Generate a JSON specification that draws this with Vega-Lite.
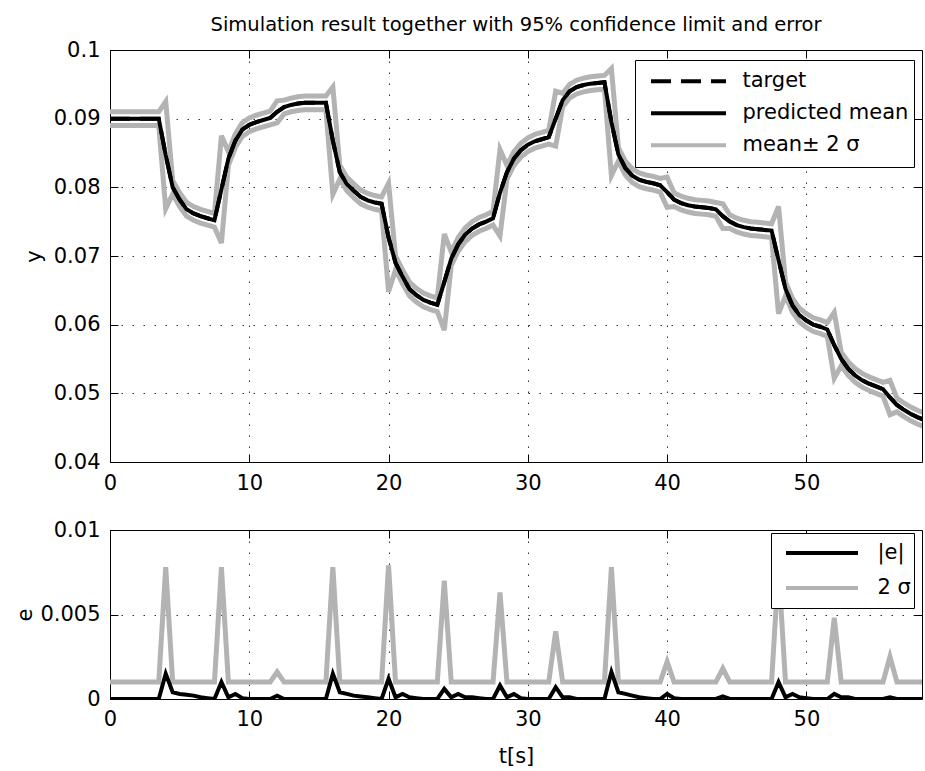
{
"$schema": "https://vega.github.io/schema/vega-lite/v6.json",
"padding": {"left": 13, "top": 14, "right": 2, "bottom": 8},
"background": "white",
"config": {
  "font": "DejaVu Sans",
  "view": {"stroke": "black", "strokeWidth": 1},
  "axis": {"labelFont": "DejaVu Sans", "labelFontSize": 21, "labelColor": "black", "titleFont": "DejaVu Sans", "titleFontSize": 21, "titleFontWeight": "normal", "titleColor": "black", "tickColor": "black", "tickSize": -8, "tickWidth": 1, "domain": false, "gridColor": "#000000", "gridDash": [1.5, 9.5], "gridOpacity": 0.8, "labelFlush": false, "labelOverlap": false},
  "legend": {"labelFont": "DejaVu Sans", "labelColor": "black", "strokeColor": "black", "fillColor": "white", "symbolType": "stroke", "symbolStrokeWidth": 4, "rowPadding": 0, "labelLimit": 400}
},
"datasets": {"sim": [
{"t":0,"target":0.0900,"mean":0.0900,"upper":0.0910,"lower":0.0890,"sig2":0.0010,"err":0},
{"t":0.5,"target":0.0900,"mean":0.0900,"upper":0.0910,"lower":0.0890,"sig2":0.0010,"err":0},
{"t":1,"target":0.0900,"mean":0.0900,"upper":0.0910,"lower":0.0890,"sig2":0.0010,"err":0},
{"t":1.5,"target":0.0900,"mean":0.0900,"upper":0.0910,"lower":0.0890,"sig2":0.0010,"err":0},
{"t":2,"target":0.0900,"mean":0.0900,"upper":0.0910,"lower":0.0890,"sig2":0.0010,"err":0},
{"t":2.5,"target":0.0900,"mean":0.0900,"upper":0.0910,"lower":0.0890,"sig2":0.0010,"err":0},
{"t":3,"target":0.0900,"mean":0.0900,"upper":0.0910,"lower":0.0890,"sig2":0.0010,"err":0},
{"t":3.5,"target":0.0900,"mean":0.0900,"upper":0.0910,"lower":0.0890,"sig2":0.0010,"err":0},
{"t":4,"target":0.0847,"mean":0.0847,"upper":0.0925,"lower":0.0769,"sig2":0.0078,"err":0.0015},
{"t":4.5,"target":0.0800,"mean":0.0800,"upper":0.0810,"lower":0.0790,"sig2":0.0010,"err":0.0004},
{"t":5,"target":0.0782,"mean":0.0782,"upper":0.0792,"lower":0.0772,"sig2":0.0010,"err":0.0003},
{"t":5.5,"target":0.0768,"mean":0.0768,"upper":0.0778,"lower":0.0758,"sig2":0.0010,"err":0.00025},
{"t":6,"target":0.0762,"mean":0.0762,"upper":0.0772,"lower":0.0752,"sig2":0.0010,"err":0.0002},
{"t":6.5,"target":0.0758,"mean":0.0758,"upper":0.0768,"lower":0.0748,"sig2":0.0010,"err":0.0001},
{"t":7,"target":0.0755,"mean":0.0755,"upper":0.0765,"lower":0.0745,"sig2":0.0010,"err":0.00005},
{"t":7.5,"target":0.0752,"mean":0.0752,"upper":0.0762,"lower":0.0742,"sig2":0.0010,"err":0},
{"t":8,"target":0.0797,"mean":0.0797,"upper":0.0875,"lower":0.0719,"sig2":0.0078,"err":0.0010},
{"t":8.5,"target":0.0842,"mean":0.0842,"upper":0.0852,"lower":0.0832,"sig2":0.0010,"err":0.0001},
{"t":9,"target":0.0868,"mean":0.0868,"upper":0.0878,"lower":0.0858,"sig2":0.0010,"err":0.0003},
{"t":9.5,"target":0.0884,"mean":0.0884,"upper":0.0894,"lower":0.0874,"sig2":0.0010,"err":0.00005},
{"t":10,"target":0.0891,"mean":0.0891,"upper":0.0901,"lower":0.0881,"sig2":0.0010,"err":0},
{"t":10.5,"target":0.0895,"mean":0.0895,"upper":0.0905,"lower":0.0885,"sig2":0.0010,"err":0},
{"t":11,"target":0.0898,"mean":0.0898,"upper":0.0908,"lower":0.0888,"sig2":0.0010,"err":0},
{"t":11.5,"target":0.0901,"mean":0.0901,"upper":0.0911,"lower":0.0891,"sig2":0.0010,"err":0},
{"t":12,"target":0.0910,"mean":0.0910,"upper":0.0926,"lower":0.0894,"sig2":0.0016,"err":0.0002},
{"t":12.5,"target":0.0917,"mean":0.0917,"upper":0.0927,"lower":0.0907,"sig2":0.0010,"err":0},
{"t":13,"target":0.0920,"mean":0.0920,"upper":0.0930,"lower":0.0910,"sig2":0.0010,"err":0},
{"t":13.5,"target":0.0922,"mean":0.0922,"upper":0.0932,"lower":0.0912,"sig2":0.0010,"err":0},
{"t":14,"target":0.0923,"mean":0.0923,"upper":0.0933,"lower":0.0913,"sig2":0.0010,"err":0},
{"t":14.5,"target":0.0923,"mean":0.0923,"upper":0.0933,"lower":0.0913,"sig2":0.0010,"err":0},
{"t":15,"target":0.0923,"mean":0.0923,"upper":0.0933,"lower":0.0913,"sig2":0.0010,"err":0},
{"t":15.5,"target":0.0923,"mean":0.0923,"upper":0.0933,"lower":0.0913,"sig2":0.0010,"err":0},
{"t":16,"target":0.0868,"mean":0.0868,"upper":0.0946,"lower":0.0790,"sig2":0.0078,"err":0.0015},
{"t":16.5,"target":0.0822,"mean":0.0822,"upper":0.0832,"lower":0.0812,"sig2":0.0010,"err":0.0004},
{"t":17,"target":0.0805,"mean":0.0805,"upper":0.0815,"lower":0.0795,"sig2":0.0010,"err":0.0003},
{"t":17.5,"target":0.0795,"mean":0.0795,"upper":0.0805,"lower":0.0785,"sig2":0.0010,"err":0.0002},
{"t":18,"target":0.0786,"mean":0.0786,"upper":0.0796,"lower":0.0776,"sig2":0.0010,"err":0.00015},
{"t":18.5,"target":0.0781,"mean":0.0781,"upper":0.0791,"lower":0.0771,"sig2":0.0010,"err":0.0001},
{"t":19,"target":0.0778,"mean":0.0778,"upper":0.0788,"lower":0.0768,"sig2":0.0010,"err":0.00005},
{"t":19.5,"target":0.0776,"mean":0.0776,"upper":0.0786,"lower":0.0766,"sig2":0.0010,"err":0},
{"t":20,"target":0.0727,"mean":0.0727,"upper":0.0806,"lower":0.0648,"sig2":0.0079,"err":0.0012},
{"t":20.5,"target":0.0690,"mean":0.0690,"upper":0.0700,"lower":0.0680,"sig2":0.0010,"err":0.0001},
{"t":21,"target":0.0670,"mean":0.0670,"upper":0.0680,"lower":0.0660,"sig2":0.0010,"err":0.0003},
{"t":21.5,"target":0.0652,"mean":0.0652,"upper":0.0662,"lower":0.0642,"sig2":0.0010,"err":0.0001},
{"t":22,"target":0.0643,"mean":0.0643,"upper":0.0653,"lower":0.0633,"sig2":0.0010,"err":0.00005},
{"t":22.5,"target":0.0636,"mean":0.0636,"upper":0.0646,"lower":0.0626,"sig2":0.0010,"err":0},
{"t":23,"target":0.0632,"mean":0.0632,"upper":0.0642,"lower":0.0622,"sig2":0.0010,"err":0},
{"t":23.5,"target":0.0629,"mean":0.0629,"upper":0.0639,"lower":0.0619,"sig2":0.0010,"err":0},
{"t":24,"target":0.0662,"mean":0.0662,"upper":0.0732,"lower":0.0592,"sig2":0.0070,"err":0.0006},
{"t":24.5,"target":0.0696,"mean":0.0696,"upper":0.0706,"lower":0.0686,"sig2":0.0010,"err":0.0001},
{"t":25,"target":0.0717,"mean":0.0717,"upper":0.0727,"lower":0.0707,"sig2":0.0010,"err":0.0003},
{"t":25.5,"target":0.0731,"mean":0.0731,"upper":0.0741,"lower":0.0721,"sig2":0.0010,"err":0.0001},
{"t":26,"target":0.0740,"mean":0.0740,"upper":0.0750,"lower":0.0730,"sig2":0.0010,"err":0.0001},
{"t":26.5,"target":0.0746,"mean":0.0746,"upper":0.0756,"lower":0.0736,"sig2":0.0010,"err":0.00005},
{"t":27,"target":0.0750,"mean":0.0750,"upper":0.0760,"lower":0.0740,"sig2":0.0010,"err":0},
{"t":27.5,"target":0.0755,"mean":0.0755,"upper":0.0765,"lower":0.0745,"sig2":0.0010,"err":0},
{"t":28,"target":0.0792,"mean":0.0792,"upper":0.0855,"lower":0.0729,"sig2":0.0063,"err":0.0008},
{"t":28.5,"target":0.0822,"mean":0.0822,"upper":0.0832,"lower":0.0812,"sig2":0.0010,"err":0.0001},
{"t":29,"target":0.0842,"mean":0.0842,"upper":0.0852,"lower":0.0832,"sig2":0.0010,"err":0.0003},
{"t":29.5,"target":0.0854,"mean":0.0854,"upper":0.0864,"lower":0.0844,"sig2":0.0010,"err":0.00005},
{"t":30,"target":0.0862,"mean":0.0862,"upper":0.0872,"lower":0.0852,"sig2":0.0010,"err":0},
{"t":30.5,"target":0.0867,"mean":0.0867,"upper":0.0877,"lower":0.0857,"sig2":0.0010,"err":0},
{"t":31,"target":0.0870,"mean":0.0870,"upper":0.0880,"lower":0.0860,"sig2":0.0010,"err":0},
{"t":31.5,"target":0.0873,"mean":0.0873,"upper":0.0883,"lower":0.0863,"sig2":0.0010,"err":0},
{"t":32,"target":0.0900,"mean":0.0900,"upper":0.0940,"lower":0.0860,"sig2":0.0040,"err":0.0007},
{"t":32.5,"target":0.0927,"mean":0.0927,"upper":0.0937,"lower":0.0917,"sig2":0.0010,"err":0.0001},
{"t":33,"target":0.0940,"mean":0.0940,"upper":0.0950,"lower":0.0930,"sig2":0.0010,"err":0.0001},
{"t":33.5,"target":0.0946,"mean":0.0946,"upper":0.0956,"lower":0.0936,"sig2":0.0010,"err":0},
{"t":34,"target":0.0949,"mean":0.0949,"upper":0.0959,"lower":0.0939,"sig2":0.0010,"err":0},
{"t":34.5,"target":0.0951,"mean":0.0951,"upper":0.0961,"lower":0.0941,"sig2":0.0010,"err":0},
{"t":35,"target":0.0952,"mean":0.0952,"upper":0.0962,"lower":0.0942,"sig2":0.0010,"err":0},
{"t":35.5,"target":0.0953,"mean":0.0953,"upper":0.0963,"lower":0.0943,"sig2":0.0010,"err":0},
{"t":36,"target":0.0895,"mean":0.0895,"upper":0.0973,"lower":0.0817,"sig2":0.0078,"err":0.0016},
{"t":36.5,"target":0.0848,"mean":0.0848,"upper":0.0858,"lower":0.0838,"sig2":0.0010,"err":0.0004},
{"t":37,"target":0.0828,"mean":0.0828,"upper":0.0838,"lower":0.0818,"sig2":0.0010,"err":0.0003},
{"t":37.5,"target":0.0817,"mean":0.0817,"upper":0.0827,"lower":0.0807,"sig2":0.0010,"err":0.0002},
{"t":38,"target":0.0811,"mean":0.0811,"upper":0.0821,"lower":0.0801,"sig2":0.0010,"err":0.0001},
{"t":38.5,"target":0.0808,"mean":0.0808,"upper":0.0818,"lower":0.0798,"sig2":0.0010,"err":0.00005},
{"t":39,"target":0.0806,"mean":0.0806,"upper":0.0816,"lower":0.0796,"sig2":0.0010,"err":0},
{"t":39.5,"target":0.0803,"mean":0.0803,"upper":0.0813,"lower":0.0793,"sig2":0.0010,"err":0},
{"t":40,"target":0.0793,"mean":0.0793,"upper":0.0815,"lower":0.0771,"sig2":0.0022,"err":0.0003},
{"t":40.5,"target":0.0782,"mean":0.0782,"upper":0.0792,"lower":0.0772,"sig2":0.0010,"err":0.00005},
{"t":41,"target":0.0777,"mean":0.0777,"upper":0.0787,"lower":0.0767,"sig2":0.0010,"err":0},
{"t":41.5,"target":0.0774,"mean":0.0774,"upper":0.0784,"lower":0.0764,"sig2":0.0010,"err":0},
{"t":42,"target":0.0772,"mean":0.0772,"upper":0.0782,"lower":0.0762,"sig2":0.0010,"err":0},
{"t":42.5,"target":0.0771,"mean":0.0771,"upper":0.0781,"lower":0.0761,"sig2":0.0010,"err":0},
{"t":43,"target":0.0770,"mean":0.0770,"upper":0.0780,"lower":0.0760,"sig2":0.0010,"err":0},
{"t":43.5,"target":0.0768,"mean":0.0768,"upper":0.0778,"lower":0.0758,"sig2":0.0010,"err":0},
{"t":44,"target":0.0758,"mean":0.0758,"upper":0.0776,"lower":0.0740,"sig2":0.0018,"err":0.00015},
{"t":44.5,"target":0.0750,"mean":0.0750,"upper":0.0760,"lower":0.0740,"sig2":0.0010,"err":0},
{"t":45,"target":0.0745,"mean":0.0745,"upper":0.0755,"lower":0.0735,"sig2":0.0010,"err":0},
{"t":45.5,"target":0.0742,"mean":0.0742,"upper":0.0752,"lower":0.0732,"sig2":0.0010,"err":0},
{"t":46,"target":0.0740,"mean":0.0740,"upper":0.0750,"lower":0.0730,"sig2":0.0010,"err":0},
{"t":46.5,"target":0.0739,"mean":0.0739,"upper":0.0749,"lower":0.0729,"sig2":0.0010,"err":0},
{"t":47,"target":0.0738,"mean":0.0738,"upper":0.0748,"lower":0.0728,"sig2":0.0010,"err":0},
{"t":47.5,"target":0.0737,"mean":0.0737,"upper":0.0747,"lower":0.0727,"sig2":0.0010,"err":0},
{"t":48,"target":0.0694,"mean":0.0694,"upper":0.0772,"lower":0.0616,"sig2":0.0078,"err":0.0010},
{"t":48.5,"target":0.0652,"mean":0.0652,"upper":0.0662,"lower":0.0642,"sig2":0.0010,"err":0.0001},
{"t":49,"target":0.0628,"mean":0.0628,"upper":0.0638,"lower":0.0618,"sig2":0.0010,"err":0.0003},
{"t":49.5,"target":0.0614,"mean":0.0614,"upper":0.0624,"lower":0.0604,"sig2":0.0010,"err":0.0001},
{"t":50,"target":0.0606,"mean":0.0606,"upper":0.0616,"lower":0.0596,"sig2":0.0010,"err":0.00005},
{"t":50.5,"target":0.0600,"mean":0.0600,"upper":0.0610,"lower":0.0590,"sig2":0.0010,"err":0},
{"t":51,"target":0.0597,"mean":0.0597,"upper":0.0607,"lower":0.0587,"sig2":0.0010,"err":0},
{"t":51.5,"target":0.0593,"mean":0.0593,"upper":0.0603,"lower":0.0583,"sig2":0.0010,"err":0},
{"t":52,"target":0.0570,"mean":0.0570,"upper":0.0618,"lower":0.0522,"sig2":0.0048,"err":0.0003},
{"t":52.5,"target":0.0550,"mean":0.0550,"upper":0.0560,"lower":0.0540,"sig2":0.0010,"err":0.0001},
{"t":53,"target":0.0536,"mean":0.0536,"upper":0.0546,"lower":0.0526,"sig2":0.0010,"err":0.0001},
{"t":53.5,"target":0.0526,"mean":0.0526,"upper":0.0536,"lower":0.0516,"sig2":0.0010,"err":0},
{"t":54,"target":0.0519,"mean":0.0519,"upper":0.0529,"lower":0.0509,"sig2":0.0010,"err":0},
{"t":54.5,"target":0.0514,"mean":0.0514,"upper":0.0524,"lower":0.0504,"sig2":0.0010,"err":0},
{"t":55,"target":0.0510,"mean":0.0510,"upper":0.0520,"lower":0.0500,"sig2":0.0010,"err":0},
{"t":55.5,"target":0.0506,"mean":0.0506,"upper":0.0516,"lower":0.0496,"sig2":0.0010,"err":0},
{"t":56,"target":0.0494,"mean":0.0494,"upper":0.0519,"lower":0.0469,"sig2":0.0025,"err":0.0001},
{"t":56.5,"target":0.0483,"mean":0.0483,"upper":0.0493,"lower":0.0473,"sig2":0.0010,"err":0},
{"t":57,"target":0.0476,"mean":0.0476,"upper":0.0486,"lower":0.0466,"sig2":0.0010,"err":0},
{"t":57.5,"target":0.0470,"mean":0.0470,"upper":0.0480,"lower":0.0460,"sig2":0.0010,"err":0},
{"t":58,"target":0.0465,"mean":0.0465,"upper":0.0475,"lower":0.0455,"sig2":0.0010,"err":0},
{"t":58.5,"target":0.0461,"mean":0.0461,"upper":0.0471,"lower":0.0451,"sig2":0.0010,"err":0}
]},
"spacing": 68,
"bounds": "flush",
"resolve": {"scale": {"color": "independent"}, "legend": {"color": "independent"}},
"vconcat": [
{
  "width": 812, "height": 412,
  "title": {"text": "Simulation result together with 95% confidence limit and error", "font": "DejaVu Sans", "fontSize": 19.5, "fontWeight": "normal", "color": "black", "offset": 4},
  "data": {"name": "sim"},
  "resolve": {"axis": {"x": "independent", "y": "independent"}},
  "layer": [
    {"mark": {"type": "line", "strokeWidth": 5, "clip": true},
     "encoding": {
       "x": {"field": "t", "type": "quantitative", "scale": {"domain": [0, 58.3], "nice": false, "zero": false},
             "axis": {"orient": "bottom", "values": [0, 10, 20, 30, 40, 50], "grid": true, "labelPadding": 18, "title": null}},
       "y": {"field": "lower", "type": "quantitative", "scale": {"domain": [0.04, 0.1], "nice": false, "zero": false},
             "axis": {"orient": "left", "values": [0.04, 0.05, 0.06, 0.07, 0.08, 0.09, 0.1], "format": "~g", "grid": true, "labelPadding": 18, "title": "y", "titlePadding": 6, "minExtent": 60, "maxExtent": 60}},
       "color": {"datum": "mean± 2 σ", "type": "nominal",
                 "scale": {"domain": ["target", "predicted mean", "mean± 2 σ"], "range": ["#000000", "#000000", "#b3b3b3"]},
                 "legend": {"title": null, "orient": "none", "legendX": 525, "legendY": 10, "symbolSize": 5625, "symbolOffset": 8.5, "labelOffset": 14.5, "clipHeight": 31.5, "padding": 5.5, "labelFontSize": 21,
                            "encode": {"symbols": {"update": {"strokeDash": {"signal": "(datum.value === 'target' ? [20, 10] : [1, 0])"}}}}}}
     }},
    {"mark": {"type": "line", "strokeWidth": 5, "clip": true},
     "encoding": {
       "x": {"field": "t", "type": "quantitative", "axis": {"orient": "top", "values": [10, 20, 30, 40, 50], "labels": false, "grid": false, "title": null, "minExtent": 0, "maxExtent": 0}},
       "y": {"field": "upper", "type": "quantitative", "axis": {"orient": "right", "values": [0.05, 0.06, 0.07, 0.08, 0.09], "labels": false, "grid": false, "title": null, "minExtent": 0, "maxExtent": 0}},
       "color": {"datum": "mean± 2 σ", "type": "nominal"}
     }},
    {"mark": {"type": "line", "strokeWidth": 4, "strokeDash": [20, 10], "clip": true},
     "encoding": {
       "x": {"field": "t", "type": "quantitative", "axis": null},
       "y": {"field": "target", "type": "quantitative", "axis": null},
       "color": {"datum": "target", "type": "nominal"}
     }},
    {"mark": {"type": "line", "strokeWidth": 4, "clip": true},
     "encoding": {
       "x": {"field": "t", "type": "quantitative", "axis": null},
       "y": {"field": "mean", "type": "quantitative", "axis": null},
       "color": {"datum": "predicted mean", "type": "nominal"}
     }}
  ]
},
{
  "width": 812, "height": 169,
  "data": {"name": "sim"},
  "resolve": {"axis": {"x": "independent", "y": "independent"}},
  "layer": [
    {"mark": {"type": "line", "strokeWidth": 5, "clip": true},
     "encoding": {
       "x": {"field": "t", "type": "quantitative", "scale": {"domain": [0, 58.3], "nice": false, "zero": false},
             "axis": {"orient": "bottom", "values": [0, 10, 20, 30, 40, 50], "grid": true, "labelPadding": 17, "title": "t[s]", "titlePadding": 16}},
       "y": {"field": "sig2", "type": "quantitative", "scale": {"domain": [0, 0.01], "nice": false, "zero": false},
             "axis": {"orient": "left", "values": [0, 0.005, 0.01], "format": "~g", "grid": true, "labelPadding": 18, "title": "e", "titlePadding": 15, "minExtent": 60, "maxExtent": 60}},
       "color": {"datum": "2 σ", "type": "nominal",
                 "scale": {"domain": ["|e|", "2 σ"], "range": ["#000000", "#b3b3b3"]},
                 "legend": {"title": null, "orient": "none", "legendX": 661, "legendY": 3, "symbolSize": 5184, "symbolOffset": 10.5, "labelOffset": 17.5, "clipHeight": 35, "padding": 2.5, "labelFontSize": 21}}
     }},
    {"mark": {"type": "line", "strokeWidth": 4, "clip": true},
     "encoding": {
       "x": {"field": "t", "type": "quantitative", "axis": {"orient": "top", "values": [10, 20, 30, 40, 50], "labels": false, "grid": false, "title": null, "minExtent": 0, "maxExtent": 0}},
       "y": {"field": "err", "type": "quantitative", "axis": {"orient": "right", "values": [0.005], "labels": false, "grid": false, "title": null, "minExtent": 0, "maxExtent": 0}},
       "color": {"datum": "|e|", "type": "nominal"}
     }}
  ]
}
]
}
